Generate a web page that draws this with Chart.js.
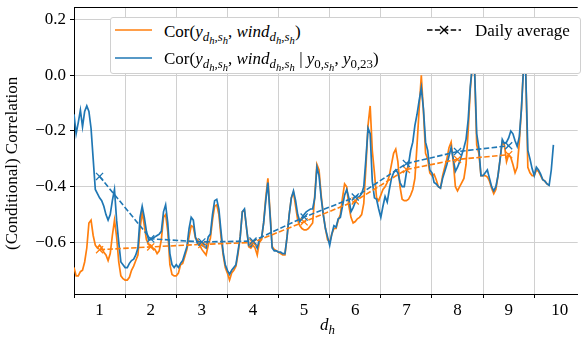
<!DOCTYPE html>
<html>
<head>
<meta charset="utf-8">
<script src="https://cdn.jsdelivr.net/npm/chart.js@4.4.1/dist/chart.umd.min.js"></script>
<style>
  body { margin: 0; background: #fff; }
  #wrap { position: relative; width: 584px; height: 339px; }
  .math { position: absolute; font-family: "Liberation Serif", serif; font-size: 17px; line-height: 20px; color: #000; white-space: nowrap; }
  .math sub { font-size: 76%; vertical-align: -0.3em; line-height: 0; }
  .math sub sub { font-size: 82%; }
  #legend { position: absolute; left: 110px; top: 17px; width: 469px; height: 55px; background: #fff;
            border: 1px solid #d0d0d0; border-radius: 3px; }
  #legend svg { position: absolute; }
  #ytitle { position: absolute; left: 2px; top: 250px; width: 180px; height: 20px; line-height: 20px;
            transform-origin: 0 0; transform: rotate(-90deg);
            font-family: "Liberation Serif", serif; font-size: 17px; font-weight: normal; color: #000; white-space: nowrap; }
</style>
</head>
<body>
<div id="wrap">
  <canvas id="c" width="584" height="339"></canvas>
  <div id="ytitle">(Conditional) Correlation</div>
  <div id="legend">
    <svg style="left:4px;top:7px" width="40" height="10"><line x1="0" y1="5" x2="37" y2="5" stroke="#ff7f0e" stroke-width="1.6"/></svg>
    <div class="math" style="left:53px;top:4px">Cor(<i>y</i><sub><i>d</i><sub><i>h</i></sub>,<i>s</i><sub><i>h</i></sub></sub>, <i>wind</i><sub><i>d</i><sub><i>h</i></sub>,<i>s</i><sub><i>h</i></sub></sub>)</div>
    <svg style="left:4px;top:35px" width="40" height="10"><line x1="0" y1="5" x2="37" y2="5" stroke="#1f77b4" stroke-width="1.6"/></svg>
    <div class="math" style="left:53px;top:31px">Cor(<i>y</i><sub><i>d</i><sub><i>h</i></sub>,<i>s</i><sub><i>h</i></sub></sub>, <i>wind</i><sub><i>d</i><sub><i>h</i></sub>,<i>s</i><sub><i>h</i></sub></sub> | <i>y</i><sub>0,<i>s</i><sub><i>h</i></sub></sub>, <i>y</i><sub>0,23</sub>)</div>
    <svg style="left:316px;top:6px" width="36" height="12">
      <line x1="0" y1="6" x2="34" y2="6" stroke="#000" stroke-width="1.5" stroke-dasharray="5.5 2.4"/>
      <line x1="13" y1="2" x2="21" y2="10" stroke="#000" stroke-width="1.2"/>
      <line x1="13" y1="10" x2="21" y2="2" stroke="#000" stroke-width="1.2"/>
    </svg>
    <div class="math" style="left:364px;top:3px">Daily average</div>
  </div>
  <div class="math" style="left:320px;top:315px"><i>d</i><sub><i>h</i></sub></div>
</div>
<script>
// hourly correlation, one value per hour from the start of day 1
const blueHourly = [
  -0.14, -0.21, -0.17, -0.125, -0.185, -0.13, -0.11, -0.13, -0.19, -0.30, -0.41, -0.425, -0.44, -0.45, -0.47, -0.50, -0.52, -0.50, -0.45, -0.41, -0.52, -0.60, -0.67, -0.68,
  -0.69, -0.69, -0.675, -0.665, -0.66, -0.645, -0.62, -0.51, -0.47, -0.51, -0.56, -0.59, -0.59, -0.585, -0.58, -0.575, -0.57, -0.56, -0.49, -0.465, -0.53, -0.64, -0.68, -0.69,
  -0.68, -0.69, -0.675, -0.665, -0.64, -0.615, -0.55, -0.51, -0.52, -0.58, -0.605, -0.61, -0.61, -0.615, -0.62, -0.58, -0.57, -0.50, -0.45, -0.445, -0.48, -0.56, -0.635, -0.68,
  -0.70, -0.715, -0.70, -0.69, -0.68, -0.63, -0.58, -0.49, -0.48, -0.55, -0.61, -0.615, -0.60, -0.605, -0.62, -0.59, -0.585, -0.53, -0.45, -0.385, -0.50, -0.62, -0.63, -0.63,
  -0.635, -0.635, -0.64, -0.64, -0.58, -0.50, -0.44, -0.415, -0.45, -0.50, -0.525, -0.51, -0.50, -0.49, -0.485, -0.48, -0.48, -0.44, -0.33, -0.36, -0.44, -0.50, -0.55, -0.58,
  -0.61, -0.57, -0.54, -0.545, -0.515, -0.51, -0.47, -0.43, -0.41, -0.44, -0.49, -0.475, -0.455, -0.44, -0.435, -0.425, -0.40, -0.30, -0.19, -0.21, -0.38, -0.44, -0.445, -0.48,
  -0.51, -0.47, -0.435, -0.455, -0.41, -0.37, -0.35, -0.34, -0.35, -0.385, -0.40, -0.40, -0.35, -0.32, -0.27, -0.24, -0.18, -0.14, -0.09, -0.045, -0.12, -0.24, -0.27, -0.34,
  -0.35, -0.385, -0.39, -0.40, -0.405, -0.37, -0.345, -0.32, -0.29, -0.26, -0.30, -0.345, -0.33, -0.31, -0.285, -0.26, -0.23, -0.16, -0.04, 0.04, 0.02, -0.21, -0.26, -0.36,
  -0.36, -0.35, -0.34, -0.37, -0.40, -0.415, -0.40, -0.36, -0.30, -0.23, -0.245, -0.24, -0.225, -0.20, -0.21, -0.235, -0.255, -0.22, -0.12, 0.03, 0.01, -0.27, -0.30, -0.335,
  -0.36, -0.33, -0.34, -0.355, -0.375, -0.38, -0.39, -0.395, -0.34, -0.25
];
const orangeHourly = [
  -0.69, -0.72, -0.72, -0.705, -0.70, -0.67, -0.62, -0.53, -0.52, -0.575, -0.61, -0.62, -0.61, -0.62, -0.635, -0.645, -0.665, -0.64, -0.575, -0.52, -0.58, -0.67, -0.72, -0.73,
  -0.735, -0.735, -0.725, -0.70, -0.685, -0.665, -0.645, -0.55, -0.49, -0.54, -0.59, -0.605, -0.61, -0.62, -0.625, -0.64, -0.63, -0.59, -0.51, -0.50, -0.56, -0.68, -0.715, -0.72,
  -0.72, -0.71, -0.68, -0.675, -0.65, -0.625, -0.58, -0.54, -0.545, -0.585, -0.59, -0.61, -0.625, -0.635, -0.645, -0.61, -0.585, -0.52, -0.47, -0.465, -0.50, -0.58, -0.645, -0.69,
  -0.71, -0.735, -0.71, -0.70, -0.685, -0.64, -0.58, -0.49, -0.485, -0.55, -0.615, -0.62, -0.61, -0.62, -0.645, -0.60, -0.59, -0.53, -0.44, -0.37, -0.49, -0.615, -0.625, -0.63,
  -0.635, -0.64, -0.645, -0.645, -0.58, -0.50, -0.44, -0.42, -0.47, -0.52, -0.54, -0.55, -0.555, -0.555, -0.55, -0.54, -0.53, -0.43, -0.32, -0.34, -0.43, -0.50, -0.55, -0.59,
  -0.60, -0.57, -0.55, -0.55, -0.52, -0.50, -0.44, -0.39, -0.40, -0.47, -0.51, -0.53, -0.525, -0.515, -0.51, -0.50, -0.46, -0.33, -0.18, -0.11, -0.27, -0.35, -0.44, -0.45,
  -0.43, -0.41, -0.40, -0.385, -0.36, -0.32, -0.28, -0.265, -0.31, -0.40, -0.445, -0.45, -0.45, -0.445, -0.43, -0.41, -0.37, -0.25, -0.12, 0.0, -0.13, -0.28, -0.30, -0.35,
  -0.36, -0.355, -0.375, -0.40, -0.405, -0.36, -0.33, -0.30, -0.26, -0.24, -0.31, -0.40, -0.415, -0.40, -0.385, -0.37, -0.32, -0.20, -0.05, 0.04, 0.02, -0.25, -0.28, -0.36,
  -0.36, -0.36, -0.365, -0.38, -0.405, -0.425, -0.41, -0.36, -0.30, -0.24, -0.25, -0.31, -0.285, -0.295, -0.32, -0.35, -0.33, -0.24, -0.12, 0.04, 0.02, -0.33, -0.35, -0.36,
  -0.36, -0.34, -0.345, -0.36, -0.375, -0.38, -0.39, -0.395
];

// daily averages, plotted at the middle of each day
const avgDays = [1, 2, 3, 4, 5, 6, 7, 8, 9];
const blueDaily = [-0.363, -0.587, -0.598, -0.595, -0.509, -0.437, -0.317, -0.274, -0.253];
const orangeDaily = [-0.626, -0.616, -0.607, -0.600, -0.526, -0.451, -0.338, -0.302, -0.285];

const dayLabels = ['1', '2', '3', '4', '5', '6', '7', '8', '9', '10'];
const yTicks = [-0.6, -0.4, -0.2, 0.0, 0.2];

const BLUE = '#1f77b4';
const ORANGE = '#ff7f0e';
const GRID = '#d0d0d0';
const FONT = { family: '"Liberation Serif", serif', size: 17 };

const hourly = vals => vals.map((v, i) => ({ x: i, y: v }));
const daily = vals => vals.map((v, i) => ({ x: (avgDays[i] - 1) * 24 + 12, y: v }));

// top spine
const frame = {
  id: 'frame',
  afterDraw(chart) {
    const a = chart.chartArea, ctx = chart.ctx;
    ctx.save();
    ctx.strokeStyle = '#000';
    ctx.lineWidth = 1;
    ctx.beginPath();
    ctx.moveTo(a.left, a.top + 0.5);
    ctx.lineTo(a.right, a.top + 0.5);
    ctx.stroke();
    ctx.restore();
  }
};

new Chart(document.getElementById('c'), {
  type: 'line',
  data: {
    datasets: [
      { data: daily(blueDaily), borderColor: BLUE, borderWidth: 1.6, borderDash: [5.5, 2.4],
        pointStyle: 'crossRot', pointRadius: 5, pointBorderWidth: 1.3, pointBorderColor: BLUE, order: 0 },
      { data: daily(orangeDaily), borderColor: ORANGE, borderWidth: 1.6, borderDash: [5.5, 2.4],
        pointStyle: 'crossRot', pointRadius: 5, pointBorderWidth: 1.3, pointBorderColor: ORANGE, order: 1 },
      { data: hourly(blueHourly), borderColor: BLUE, borderWidth: 1.7, pointRadius: 0, order: 2 },
      { data: hourly(orangeHourly), borderColor: ORANGE, borderWidth: 1.7, pointRadius: 0, order: 3 }
    ]
  },
  options: {
    responsive: false,
    animation: false,
    devicePixelRatio: 1,
    layout: { padding: { top: 7, right: 0, bottom: 0, left: 0 } },
    plugins: { legend: { display: false }, tooltip: { enabled: false } },
    elements: { line: { tension: 0 } },
    scales: {
      x: {
        type: 'linear',
        min: 0,
        max: 236.4,
        afterBuildTicks: s => {
          const t = [];
          for (let v = 0; v <= 228; v += 12) t.push({ value: v });
          s.ticks = t;
        },
        afterFit: s => { s.height = 45; s.paddingLeft = 0; s.paddingRight = 0; },
        ticks: {
          autoSkip: false, maxRotation: 0, padding: 2, color: '#000', font: FONT,
          callback: v => (v % 24 === 12 ? dayLabels[(v - 12) / 24] : '')
        },
        grid: {
          color: c => (c.tick && c.tick.value % 24 === 0 ? GRID : 'rgba(0,0,0,0)'),
          tickColor: c => (c.tick && c.tick.value % 24 === 0 ? '#000' : 'rgba(0,0,0,0)'),
          tickLength: 4,
          lineWidth: 1
        },
        border: { color: '#000', width: 1 }
      },
      y: {
        min: -0.785,
        max: 0.245,
        afterBuildTicks: s => { s.ticks = yTicks.map(v => ({ value: v })); },
        afterFit: s => { s.width = 74; s.paddingTop = 0; s.paddingBottom = 0; },
        ticks: {
          padding: 4, color: '#000', font: FONT,
          callback: v => v.toFixed(1).replace('-', '\u2212')
        },
        grid: { color: GRID, tickColor: '#000', tickLength: 4, lineWidth: 1 },
        border: { color: '#000', width: 1 }
      }
    }
  },
  plugins: [frame]
});
</script>
</body>
</html>
